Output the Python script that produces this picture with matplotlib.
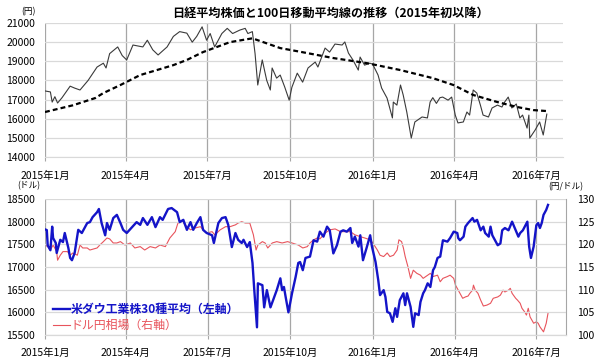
import matplotlib
matplotlib.use('Agg')
import matplotlib.pyplot as plt
import pandas as pd

plt.rcParams['font.family'] = ['Noto Sans CJK JP', 'DejaVu Sans']

BASE = pd.Timestamp('2015-01-01')  # day 0

# ---- Nikkei 225 (days since 2015-01-01, yen) ----
nk_days = [0, 6, 8, 11, 14, 19, 28, 33, 39, 48, 58, 65, 68, 72, 81, 86, 91, 98, 109, 114,
           120, 126, 130, 136, 143, 150, 158, 164, 169, 175, 180, 184, 189, 197, 203, 209, 217, 223, 226, 231,
           234, 237, 242, 247, 251, 253, 258, 262, 267, 272, 275, 281, 287, 293, 301, 304, 312, 317, 323, 331,
           334, 338, 343, 349, 351, 356, 362, 365, 371, 375, 381, 387, 388, 392, 396, 399, 403, 408, 412, 420,
           426, 429, 432, 436, 440, 443, 449, 453, 457, 460, 466, 470, 473, 477, 481, 485, 488, 494, 498, 504,
           509, 512, 516, 520, 525, 529, 532, 537, 539, 540, 546, 551, 555, 559]
nk_vals = [17450, 17400, 16870, 17150, 16820, 17100, 17700, 17600, 17500, 18000, 18700, 18900, 18650, 19400, 19750, 19300, 19070, 19850, 19750, 20100,
           19600, 19330, 19500, 19750, 20300, 20550, 20470, 20000, 20300, 20800, 20100, 20450, 19750, 20450, 20720, 20450, 20630, 20720, 20450, 20550,
           19400, 17760, 19070, 18000, 17500, 18650, 18120, 18280, 17660, 16970, 17640, 18380, 17910, 18650, 18960, 18700, 19690, 19480, 19900, 19850,
           20010, 19430, 19070, 18540, 19220, 18800, 18900, 18850, 18280, 17600, 17080, 16040, 16870, 16710, 17760, 17240, 16350, 14990, 15830, 16090,
           16040, 16870, 17100, 16800, 17100, 17130, 16970, 17130, 16190, 15780, 15830, 16350, 16190, 17500, 17340, 16710, 16190, 16090, 16560, 16710,
           16610, 16870, 17130, 16560, 16770, 16040, 16190, 15510, 16190, 14990, 15410, 15830, 15150, 16240]

# ---- 100-day moving average ----
ma_days = [0, 31, 56, 65, 84, 106, 143, 158, 176, 206, 231, 262, 284, 321, 359, 396, 432, 455, 477, 504, 526, 544, 559]
ma_vals = [16350, 16700, 17080, 17340, 17760, 18280, 18800, 19070, 19480, 20000, 20200, 19690, 19500, 19170, 18900, 18540,
           18120, 17760, 17240, 16870, 16610, 16450, 16400]

# ---- Dow Jones Industrial Average (dollars) ----
dow_days = [0, 2, 3, 6, 8, 9, 12, 13, 17, 20, 22, 26, 28, 30, 33, 37, 41, 47, 50, 53,
            58, 60, 63, 67, 69, 72, 76, 80, 84, 87, 91, 97, 102, 106, 109, 114, 119, 123, 128, 131,
            137, 141, 147, 150, 154, 158, 162, 165, 169, 173, 176, 180, 186, 188, 193, 197, 201, 204, 208, 212,
            215, 219, 221, 225, 228, 231, 233, 236, 237, 242, 244, 247, 251, 254, 258, 262, 264, 266, 268, 271,
            275, 279, 282, 284, 287, 290, 295, 299, 303, 306, 310, 314, 317, 321, 325, 329, 332, 336, 340, 342,
            345, 349, 351, 354, 358, 362, 364, 368, 371, 373, 377, 379, 381, 384, 387, 390, 392, 395, 399, 401,
            403, 407, 409, 410, 412, 416, 418, 421, 423, 426, 429, 432, 434, 437, 440, 443, 448, 451, 455, 459,
            460, 462, 466, 468, 471, 476, 478, 481, 485, 488, 490, 494, 496, 498, 501, 504, 507, 509, 512, 516,
            520, 524, 527, 529, 532, 537, 539, 541, 544, 547, 549, 551, 553, 555, 558, 560]
dow_vals = [17830, 17815, 17480, 17370, 17890, 17640, 17530, 17310, 17600, 17550, 17750, 17420, 17200, 17150, 17310, 17820, 17750, 17970, 17990, 18100,
            18210, 18280, 17970, 17700, 17970, 17820, 18080, 18150, 17970, 17820, 17750, 17880, 17990, 17930, 18080, 17930, 18100, 17880, 18100, 18040,
            18280, 18300, 18210, 17990, 18040, 17820, 17990, 17820, 17970, 18100, 17820, 17750, 17700, 17530, 17970, 18080, 18100, 17930, 17440, 17750,
            17600, 17530, 17600, 17440, 17550, 17090, 16490, 15670, 16640, 16600, 16110, 16490, 16110, 16270, 16490, 16750, 16490, 16560, 16330, 16000,
            16420, 16780, 17090, 17110, 16930, 17200, 17230, 17590, 17560, 17780, 17670, 17890, 17810, 17300, 17480, 17780, 17810, 17780, 17860, 17530,
            17670, 17450, 17700, 17150, 17420, 17700, 17450, 17110, 16710, 16380, 16490, 16340, 16010, 15980, 15790, 16090, 15900, 16270, 16420, 16160,
            16420, 16120, 15830, 15680, 15980, 15940, 16230, 16420, 16490, 16640, 16560, 16930, 17000, 17200, 17230, 17590, 17560, 17640, 17780, 17750,
            17640, 17590, 17670, 17890, 17970, 18080, 18000, 18040, 17810, 17890, 17750, 17670, 17890, 17700, 17590, 17480, 17520, 17810, 17860, 17810,
            18000, 17810, 17670, 17750, 17810, 18000, 17450, 17200, 17450, 17920, 17970, 17860, 17970, 18150, 18260, 18370]

# ---- USD/JPY (yen per dollar) ----
jpy_days = [0, 3, 6, 9, 13, 14, 17, 20, 25, 28, 31, 36, 39, 42, 47, 50, 58, 61, 65, 69,
            72, 76, 80, 84, 89, 95, 100, 106, 111, 117, 123, 128, 134, 139, 145, 148, 153, 156, 162, 167,
            173, 176, 180, 186, 189, 195, 201, 206, 212, 215, 219, 223, 228, 232, 235, 237, 242, 245, 248, 253,
            258, 264, 270, 275, 282, 287, 292, 295, 299, 303, 306, 312, 317, 323, 329, 334, 340, 345, 351, 356,
            362, 365, 370, 373, 377, 381, 384, 388, 392, 394, 397, 399, 401, 404, 407, 410, 414, 418, 421, 426,
            429, 432, 437, 440, 443, 448, 451, 455, 457, 460, 465, 468, 471, 473, 476, 477, 479, 482, 485, 488,
            492, 496, 499, 504, 507, 510, 512, 516, 518, 520, 524, 526, 529, 531, 534, 536, 538, 540, 544, 547,
            549, 551, 555, 558, 560]
jpy_vals = [119.85, 119.5, 118.75, 119.85, 118.4, 116.5, 117.6, 118.4, 118.4, 117.6, 118.1, 117.6, 119.85, 119.2, 119.2, 118.75, 119.2, 119.85, 120.6, 121.4,
            121.2, 120.3, 120.3, 120.6, 119.85, 120.3, 119.2, 119.5, 118.75, 119.5, 119.2, 119.85, 119.5, 121.4, 122.8, 124.7, 125.0, 124.3, 123.2, 123.6,
            123.9, 123.2, 122.5, 122.8, 122.1, 123.2, 123.9, 123.9, 124.3, 124.7, 125.0, 124.7, 124.7, 122.1, 118.75, 119.85, 120.6, 120.3, 119.2, 120.3,
            120.6, 120.3, 120.6, 120.3, 119.85, 119.2, 119.5, 120.3, 121.0, 121.4, 121.2, 122.5, 123.2, 123.4, 122.8, 122.8, 122.8, 122.1, 121.7, 121.4,
            121.0, 120.3, 118.75, 117.6, 117.3, 118.1, 117.3, 117.6, 118.75, 121.0, 120.6, 119.2, 117.3, 115.1, 112.5, 114.3, 113.6, 113.2, 112.5, 113.2,
            113.6, 112.9, 113.2, 111.75, 112.5, 112.9, 113.2, 112.5, 111.0, 109.9, 108.1, 108.4, 108.6, 109.2, 109.9, 111.0, 109.9, 109.2, 107.7, 106.4,
            106.6, 107.0, 108.1, 108.4, 108.8, 109.9, 109.5, 109.9, 110.3, 109.2, 108.1, 107.7, 107.0, 105.9, 105.1, 104.4, 105.9, 104.0, 102.6, 102.9,
            102.6, 101.8, 100.7, 102.6, 104.8]

tick_dates = ['2015-01-01', '2015-04-01', '2015-07-01', '2015-10-01',
              '2016-01-01', '2016-04-01', '2016-07-01']

title = '日経平均株価と100日移動平均線の推移（2015年初以降）'
label_dow = '米ダウ工業株30種平均（左軸）'
label_jpy = 'ドル円相場（右軸）'


def to_dates(days):
    return BASE + pd.to_timedelta(days, unit='D')


ticks = pd.to_datetime(tick_dates)
tick_labels = [f'{t.year}年{t.month}月' for t in ticks]

VGRID = '#a6a6a6'
HGRID = '#d9d9d9'
FS = 7.5

fig = plt.figure(figsize=(6, 3.6), dpi=100)

# ---------------- top panel ----------------
ax1 = fig.add_axes([0.075, 0.5639, 0.8633, 0.3722])
ax1.plot(to_dates(nk_days), nk_vals, color='#3a3a3a', lw=0.8)
ax1.plot(to_dates(ma_days), ma_vals, color='black', lw=1.6, ls=(0, (2.2, 1.4)))
ax1.set_xlim(BASE, BASE + pd.Timedelta(days=577))
ax1.set_ylim(14000, 21000)
ax1.set_yticks(range(14000, 21001, 1000))
ax1.set_xticks(ticks)
ax1.set_xticklabels(tick_labels)
ax1.grid(axis='y', color=HGRID, lw=0.9)
ax1.grid(axis='x', color=VGRID, lw=0.9)
ax1.set_axisbelow(True)
for s in ['top', 'right', 'left']:
    ax1.spines[s].set_visible(False)
ax1.spines['bottom'].set_color(HGRID)
ax1.tick_params(axis='y', length=0, pad=7, labelsize=FS)
ax1.tick_params(axis='x', length=3, color=VGRID, pad=7, labelsize=FS)

# ---------------- bottom panel ----------------
ax3 = fig.add_axes([0.075, 0.0694, 0.8683, 0.3778])
ax4 = ax3.twinx()
ax3.set_zorder(ax4.get_zorder() + 1)
ax3.patch.set_visible(False)

l_jpy, = ax4.plot(to_dates(jpy_days), jpy_vals, color='#e8545c', lw=0.8)
l_dow, = ax3.plot(to_dates(dow_days), dow_vals, color='#1414c8', lw=1.7)

ax3.set_xlim(BASE, BASE + pd.Timedelta(days=580))
ax3.set_ylim(15500, 18500)
ax3.set_yticks(range(15500, 18501, 500))
ax4.set_ylim(100, 130)
ax4.set_yticks(range(100, 131, 5))
ax3.set_xticks(ticks)
ax3.set_xticklabels(tick_labels)
ax3.grid(axis='y', color=HGRID, lw=0.9)
ax3.grid(axis='x', color=VGRID, lw=0.9)
for a in (ax3, ax4):
    for s in ['top', 'left', 'right']:
        a.spines[s].set_visible(False)
    a.spines['bottom'].set_color(HGRID)
ax4.spines['right'].set_visible(True)
ax4.spines['right'].set_color(VGRID)
ax3.tick_params(axis='y', length=0, pad=7, labelsize=FS)
ax4.tick_params(axis='y', length=0, pad=8, labelsize=FS)
ax3.tick_params(axis='x', length=3, color=VGRID, pad=6, labelsize=FS)

leg = ax3.legend([l_dow, l_jpy], [label_dow, label_jpy], loc='lower left',
                 bbox_to_anchor=(0.016, 0.02), frameon=False, fontsize=8.6,
                 handlelength=1.4, handletextpad=0.05, labelspacing=0.25,
                 borderaxespad=0, borderpad=0, labelcolor='linecolor')
leg.get_texts()[0].set_fontweight('bold')

# ---------------- texts ----------------
fig.text(0.55, 0.962, title, ha='center', va='center', fontsize=8.7, fontweight='bold')
fig.text(28 / 600, 1 - 12 / 360, '(円)', ha='center', va='center', fontsize=6.2)
fig.text(29 / 600, 1 - 186 / 360, '(ドル)', ha='center', va='center', fontsize=6.2)
fig.text(566 / 600, 1 - 187 / 360, '(円/ドル)', ha='center', va='center', fontsize=6.2)

fig.savefig('out.png', dpi=100)
